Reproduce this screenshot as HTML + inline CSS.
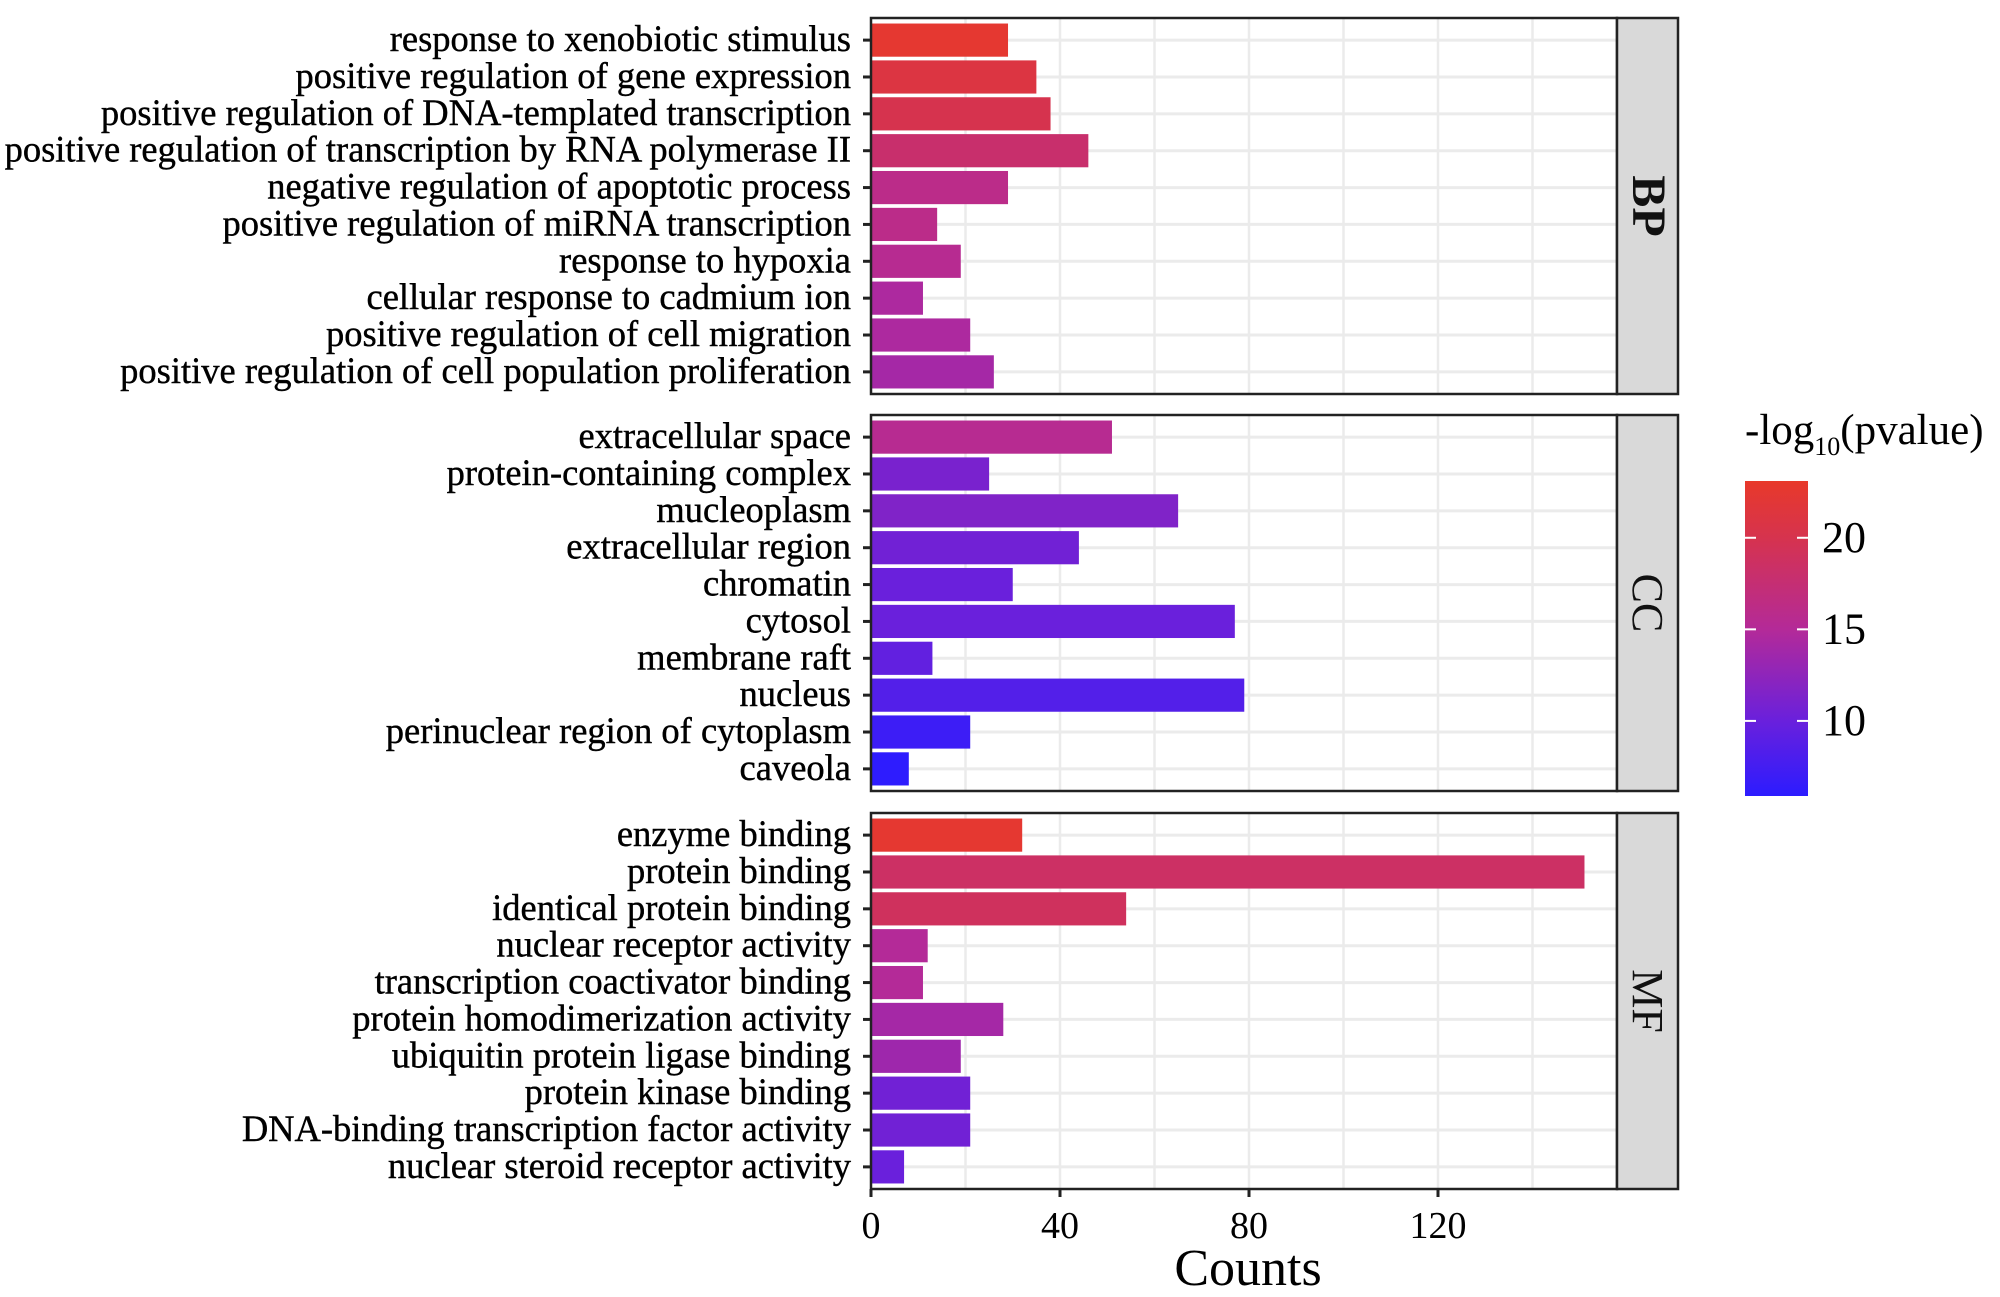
<!DOCTYPE html>
<html><head><meta charset="utf-8"><style>
body{margin:0;background:#fff}
svg{display:block;font-family:"Liberation Serif",serif}
</style></head><body>
<svg id="chart" width="2000" height="1297" viewBox="0 0 2000 1297" xmlns="http://www.w3.org/2000/svg">
<defs><linearGradient id="cg" x1="0" y1="1" x2="0" y2="0">
<stop offset="0" stop-color="#2c1cff"/><stop offset="0.24" stop-color="#6a20dc"/><stop offset="0.53" stop-color="#b42a98"/><stop offset="0.82" stop-color="#d6334e"/><stop offset="1" stop-color="#e8392a"/></linearGradient></defs>
</svg>
<script>
const panels=["BP","CC","MF"];
const bpTerms=["response to xenobiotic stimulus","positive regulation of gene expression","positive regulation of DNA-templated transcription","positive regulation of transcription by RNA polymerase II","negative regulation of apoptotic process","positive regulation of miRNA transcription","response to hypoxia","cellular response to cadmium ion","positive regulation of cell migration","positive regulation of cell population proliferation"];
const bpCounts=[29,35,38,46,29,14,19,11,21,26];
const bpLogP=[22.5,21,20,18,16,16,15.5,14.5,14.5,14];
const ccTerms=["extracellular space","protein-containing complex","mucleoplasm","extracellular region","chromatin","cytosol","membrane raft","nucleus","perinuclear region of cytoplasm","caveola"];
const ccCounts=[51,25,65,44,30,77,13,79,21,8];
const ccLogP=[15.5,11,11.5,10.5,10,10,9.5,8.5,7,6];
const mfTerms=["enzyme binding","protein binding","identical protein binding","nuclear receptor activity","transcription coactivator binding","protein homodimerization activity","ubiquitin protein ligase binding","protein kinase binding","DNA-binding transcription factor activity","nuclear steroid receptor activity"];
const mfCounts=[32,151,54,12,11,28,19,21,21,7];
const mfLogP=[22.5,18.5,19,15,15,14,13.5,10.5,10.5,10];
const xTicks=[0,40,80,120];
const legendTicks=[10,15,20];

const svg=document.getElementById('chart');
const NS="http://www.w3.org/2000/svg";
function mk(t,a,p){const e=document.createElementNS(NS,t);for(const k in a)e.setAttribute(k,a[k]);(p||svg).appendChild(e);return e;}
const X0=871,X1=1617,SX=4.725;
const x=v=>X0+v*SX;
const tops=[18,415,813],PH=376;
const cMin=5.9,cMax=23.1;
const stops=[[5.9,[44,28,255]],[10,[106,32,220]],[15,[180,42,152]],[20,[214,51,78]],[23.1,[232,57,42]]];
function col(v){for(let i=0;i<stops.length-1;i++){const[a,ca]=stops[i],[b,cb]=stops[i+1];if(v<=b||i==stops.length-2){const t=Math.max(0,Math.min(1,(v-a)/(b-a)));return'rgb('+ca.map((c,j)=>Math.round(c+(cb[j]-c)*t)).join(',')+')';}}}
const data=[[bpTerms,bpCounts,bpLogP],[ccTerms,ccCounts,ccLogP],[mfTerms,mfCounts,mfLogP]];
data.forEach((d,pi)=>{
  const top=tops[pi],step=PH/10.2;
  const g=mk('g',{});
  
  
  for(let v=20;v<=140;v+=20){const l=mk('line',{x1:x(v),x2:x(v),y1:top,y2:top+PH,stroke:'#ebebeb','stroke-width':2.5},g);}
  d[0].forEach((term,i)=>{
    const cy=top+step*(0.6+i);
    const gl=mk('line',{x1:X0,x2:X1,y1:cy,y2:cy,stroke:'#ebebeb','stroke-width':3},g);
    
    const r=mk('rect',{x:X0,y:cy-step*0.45,width:d[1][i]*SX,height:step*0.9,fill:col(d[2][i])},g);
    
    const tk=mk('line',{x1:X0-8,x2:X0,y1:cy,y2:cy,stroke:'#222','stroke-width':3},g);
    
    const t=mk('text',{x:851,y:cy+11,'text-anchor':'end','font-size':36.5,fill:'#000',stroke:'#000','stroke-width':0.4},g);t.textContent=term;
    
  });
  const b=mk('rect',{x:X0,y:top,width:X1-X0,height:PH,fill:'none',stroke:'#222','stroke-width':2.5},g);
  
  const s=mk('rect',{x:X1,y:top,width:61,height:PH,fill:'#d9d9d9',stroke:'#222','stroke-width':2.5},g);
  
  const st=mk('text',{x:0,y:0,'text-anchor':'middle','font-size':pi==0?48:44,'font-weight':pi==0?'bold':'normal',fill:'#111',transform:`translate(${X1+16},${top+PH/2}) rotate(90)`},g);
  st.textContent=panels[pi];
});
const yb=tops[2]+PH;
xTicks.forEach(v=>{
  const l=mk('line',{x1:x(v),x2:x(v),y1:yb,y2:yb+8,stroke:'#222','stroke-width':3});
  
  const t=mk('text',{x:x(v),y:1238,'text-anchor':'middle','font-size':38,fill:'#000'});t.textContent=v;
  
});
const xt=mk('text',{x:1248,y:1285,'text-anchor':'middle','font-size':52,fill:'#000'});xt.textContent='Counts';

// legend
const LT=481,LB=796,ly=v=>LB-(v-cMin)/(cMax-cMin)*(LB-LT);
const lt=mk('text',{x:1745,y:444,'font-size':43,fill:'#000'});
lt.innerHTML='-log<tspan font-size="26" dy="11">10</tspan><tspan dy="-11">(pvalue)</tspan>';

const lr=mk('rect',{x:1745,y:LT,width:63,height:LB-LT,fill:'url(#cg)'});

legendTicks.forEach(v=>{
  const yy=ly(v);
  mk('line',{x1:1745,x2:1756,y1:yy,y2:yy,stroke:'#fff','stroke-width':2});
  mk('line',{x1:1797,x2:1808,y1:yy,y2:yy,stroke:'#fff','stroke-width':2});
  const t=mk('text',{x:1822,y:yy+14,'font-size':44,fill:'#000'});t.textContent=v;
  
});
</script>
</body></html>
